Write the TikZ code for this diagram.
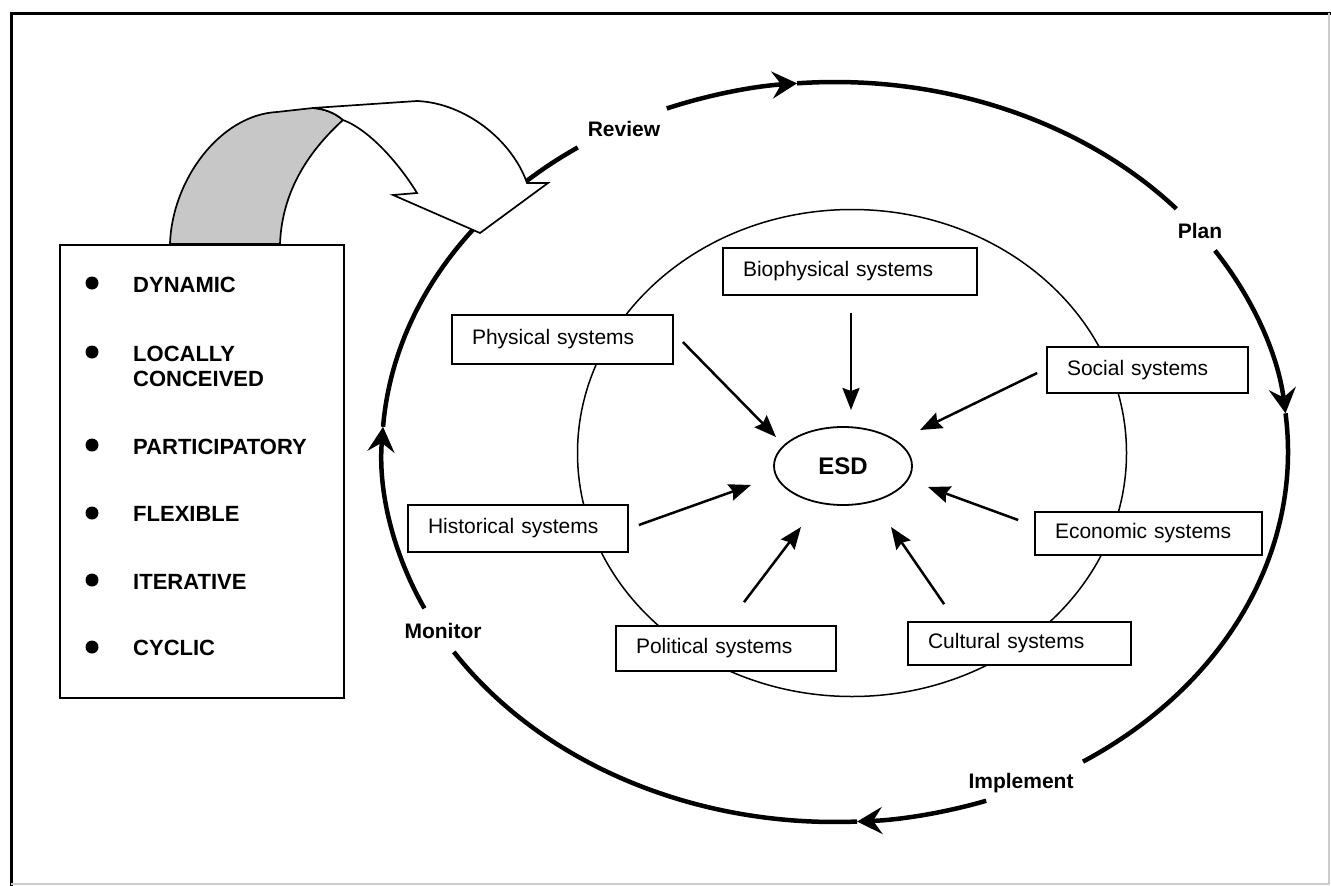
\documentclass[tikz,border=0pt]{standalone}
\usepackage{fontspec}
\setmainfont{Liberation Sans}
\usetikzlibrary{arrows.meta,shapes.geometric,calc}
\begin{document}
\begin{tikzpicture}[x=1pt,y=-1pt]
\tikzset{
  sysbox/.style={draw, fill=white, line width=1.7pt, rectangle, inner xsep=20pt, inner ysep=0pt, align=left, font=\fontsize{21}{25}\selectfont},
  cyclelbl/.style={font=\bfseries\fontsize{21}{25}\selectfont, inner sep=0pt, text height=15pt, text depth=4pt},
  bulletlbl/.style={font=\bfseries\fontsize{22}{25}\selectfont, anchor=west, inner sep=0pt, align=left},
  sysarrow/.style={line width=2.5pt, -{Stealth[length=22pt,width=17pt,inset=3pt]}},
  loopline/.style={line width=4.5pt},
  looparrow/.style={line width=4.5pt, -{Stealth[length=25pt,width=27pt,inset=9pt]}},
  bulletdot/.style={circle, fill=black, inner sep=0pt, minimum size=13pt},
  ribbonline/.style={line width=1.7pt, line join=miter},
}
\useasboundingbox (0,0) rectangle (1331,886);
% frame
\draw[line width=3pt] (11,886) -- (11,13) -- (1331,13);
\draw[black!20, line width=1.2pt] (11,884) -- (1329,884) -- (1329,13);

% inner circle
\draw[line width=1.5pt] (852,453) ellipse[x radius=274.5, y radius=243.5];

% outer cycle
\coordinate (C) at (835,452);
\draw[looparrow] (C) ++(248.2:453 and 370) arc[start angle=248.2,end angle=265.2,x radius=453,y radius=370];
\draw[loopline]  (C) ++(265.2:453 and 370) arc[start angle=265.2,end angle=318.9,x radius=453,y radius=370];
\draw[looparrow] (C) ++(-33:453 and 370) arc[start angle=-33,end angle=-6,x radius=453,y radius=370];
\draw[loopline]  (C) ++(-6:453 and 370) arc[start angle=-6,end angle=56.8,x radius=453,y radius=370];
\draw[looparrow] (C) ++(70.5:453 and 370) arc[start angle=70.5,end angle=87.2,x radius=453,y radius=370];
\draw[loopline]  (C) ++(87.2:453 and 370) arc[start angle=87.2,end angle=147.3,x radius=453,y radius=370];
\draw[looparrow] (C) ++(155:453 and 370) arc[start angle=155,end angle=183.9,x radius=453,y radius=370];
\draw[loopline]  (C) ++(183.9:453 and 370) arc[start angle=183.9,end angle=235.4,x radius=453,y radius=370];

\node[cyclelbl] (review) at (624,131) {Review};
\node[cyclelbl] (plan) at (1200,233) {Plan};
\node[cyclelbl] (implement) at (1021,783) {Implement};
\node[cyclelbl] (monitor) at (443,633) {Monitor};

% ribbon arrow
\filldraw[ribbonline, fill=black!22] (170,244) .. controls (172,180) and (220,115) .. (277,112)
  -- (313,108) .. controls (325,109) and (335,113) .. (343,120)
  .. controls (310,150) and (282,190) .. (280,244) -- cycle;
\filldraw[ribbonline, fill=white] (313,108) -- (417,101)
  .. controls (465,103) and (512,140) .. (527,183) -- (548,183) -- (480,233)
  -- (393,195) -- (417,193) .. controls (400,165) and (370,130) .. (343,120)
  .. controls (335,113) and (325,109) .. (313,108) -- cycle;

% list box
\node[draw, line width=1.8pt, minimum width=284pt, minimum height=453pt, inner sep=0pt] (listbox) at (202,471.5) {};
\node[bulletdot] (d1) at (92,283) {};
\node[bulletdot] (d2) at (92,352) {};
\node[bulletdot] (d3) at (92,445) {};
\node[bulletdot] (d4) at (92,513) {};
\node[bulletdot] (d5) at (92,580) {};
\node[bulletdot] (d6) at (92,647) {};
\node[bulletlbl] (t1) at (133,285) {DYNAMIC};
\node[bulletlbl] (t2) at (133,366) {LOCALLY\\CONCEIVED};
\node[bulletlbl] (t3) at (133,447) {PARTICIPATORY};
\node[bulletlbl] (t4) at (133,514) {FLEXIBLE};
\node[bulletlbl] (t5) at (133,582) {ITERATIVE};
\node[bulletlbl] (t6) at (133,648) {CYCLIC};

% systems
\node[draw, ellipse, line width=1.8pt, minimum width=138pt, minimum height=78pt, inner sep=0pt,
      font=\bfseries\fontsize{24}{28}\selectfont] (esd) at (843,466) {ESD};
\node[sysbox, text width=214pt, minimum height=47pt] (bio) at (850,271.5) {Biophysical systems};
\node[sysbox, text width=181pt, minimum height=49pt] (phys) at (562.5,339.5) {Physical systems};
\node[sysbox, text width=161pt, minimum height=46pt] (soc) at (1147.5,370) {Social systems};
\node[sysbox, text width=180pt, minimum height=47pt] (hist) at (518,528.5) {Historical systems};
\node[sysbox, text width=187pt, minimum height=43pt] (econ) at (1148.5,533.5) {Economic systems};
\node[sysbox, text width=180pt, minimum height=45pt] (pol) at (726,648.5) {Political systems};
\node[sysbox, text width=183pt, minimum height=43pt] (cult) at (1019.5,643.5) {Cultural systems};

\draw[sysarrow] ($(bio.south)+(1,17)$) -- ($(esd)+(8,-56)$);
\draw[sysarrow] ($(phys.east)+(9,2.5)$) -- ($(esd)+(-67,-29)$);
\draw[sysarrow] ($(soc.west)+(-9,3)$) -- ($(esd)+(77,-36)$);
\draw[sysarrow] ($(hist.east)+(10,-3.5)$) -- ($(esd)+(-92,19)$);
\draw[sysarrow] ($(econ.west)+(-16,-13.5)$) -- ($(esd)+(85,21)$);
\draw[sysarrow] ($(pol.north)+(18,-23)$) -- ($(esd)+(-42,61)$);
\draw[sysarrow] ($(cult.north west)+(37,-17)$) -- ($(esd)+(48,61)$);
\end{tikzpicture}
\end{document}
